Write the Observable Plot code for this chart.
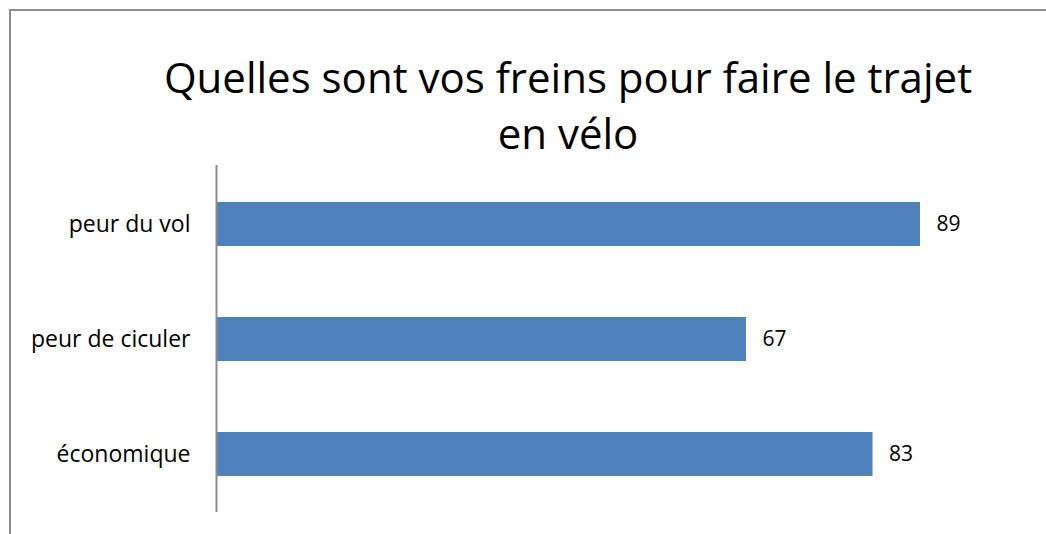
<!DOCTYPE html>
<html>
<head>
<meta charset="utf-8">
<script src="https://cdn.jsdelivr.net/npm/d3@7"></script>
<script src="https://cdn.jsdelivr.net/npm/@observablehq/plot@0.6"></script>
<style>
  html, body { margin: 0; padding: 0; background: #fff; }
  #wrap { position: relative; width: 1046px; height: 534px; overflow: hidden; font-family: "Open Sans", sans-serif; }
  #frame { position: absolute; left: 9px; top: 9px; width: 1200px; height: 800px; border-top: 2px solid #8c8c8c; border-left: 2px solid #8c8c8c; }
  #title { position: absolute; left: 568px; top: 49px; transform: translateX(-50%); width: 1000px; text-align: center; font-size: 42px; line-height: 56px; color: #000; }
  #chart { position: absolute; left: 0; top: 0; }
</style>
</head>
<body>
<div id="wrap">
  <div id="frame"></div>
  <div id="chart"></div>
  <div id="title">Quelles sont vos freins pour faire le trajet<br>en vélo</div>
</div>
<script>
const categories = ["peur du vol", "peur de ciculer", "économique"];
const values = [89, 67, 83];

const data = categories.map((c, i) => ({category: c, value: values[i]}));

const chart = Plot.plot({
  width: 1046,
  height: 534,
  marginLeft: 216,
  marginRight: 39,
  marginTop: 165,
  marginBottom: 22,
  style: {background: "transparent", fontFamily: "'Open Sans', sans-serif", color: "#000"},
  x: {domain: [0, 100], axis: null},
  y: {domain: categories, paddingInner: 0.62, paddingOuter: 0.31, axis: null},
  marks: [
    Plot.axisY({tickSize: 0, tickPadding: 26, fontSize: 23, label: null, fill: "#000"}),
    Plot.barX(data, {x: "value", y: "category", fill: "#4f81bd"}),
    Plot.ruleX([0], {stroke: "#8c8c8c", strokeWidth: 2}),
    Plot.text(data, {x: "value", y: "category", text: d => String(d.value), textAnchor: "start", dx: 16, fontSize: 21, fill: "#000"})
  ]
});
document.getElementById("chart").appendChild(chart);
</script>
</body>
</html>
